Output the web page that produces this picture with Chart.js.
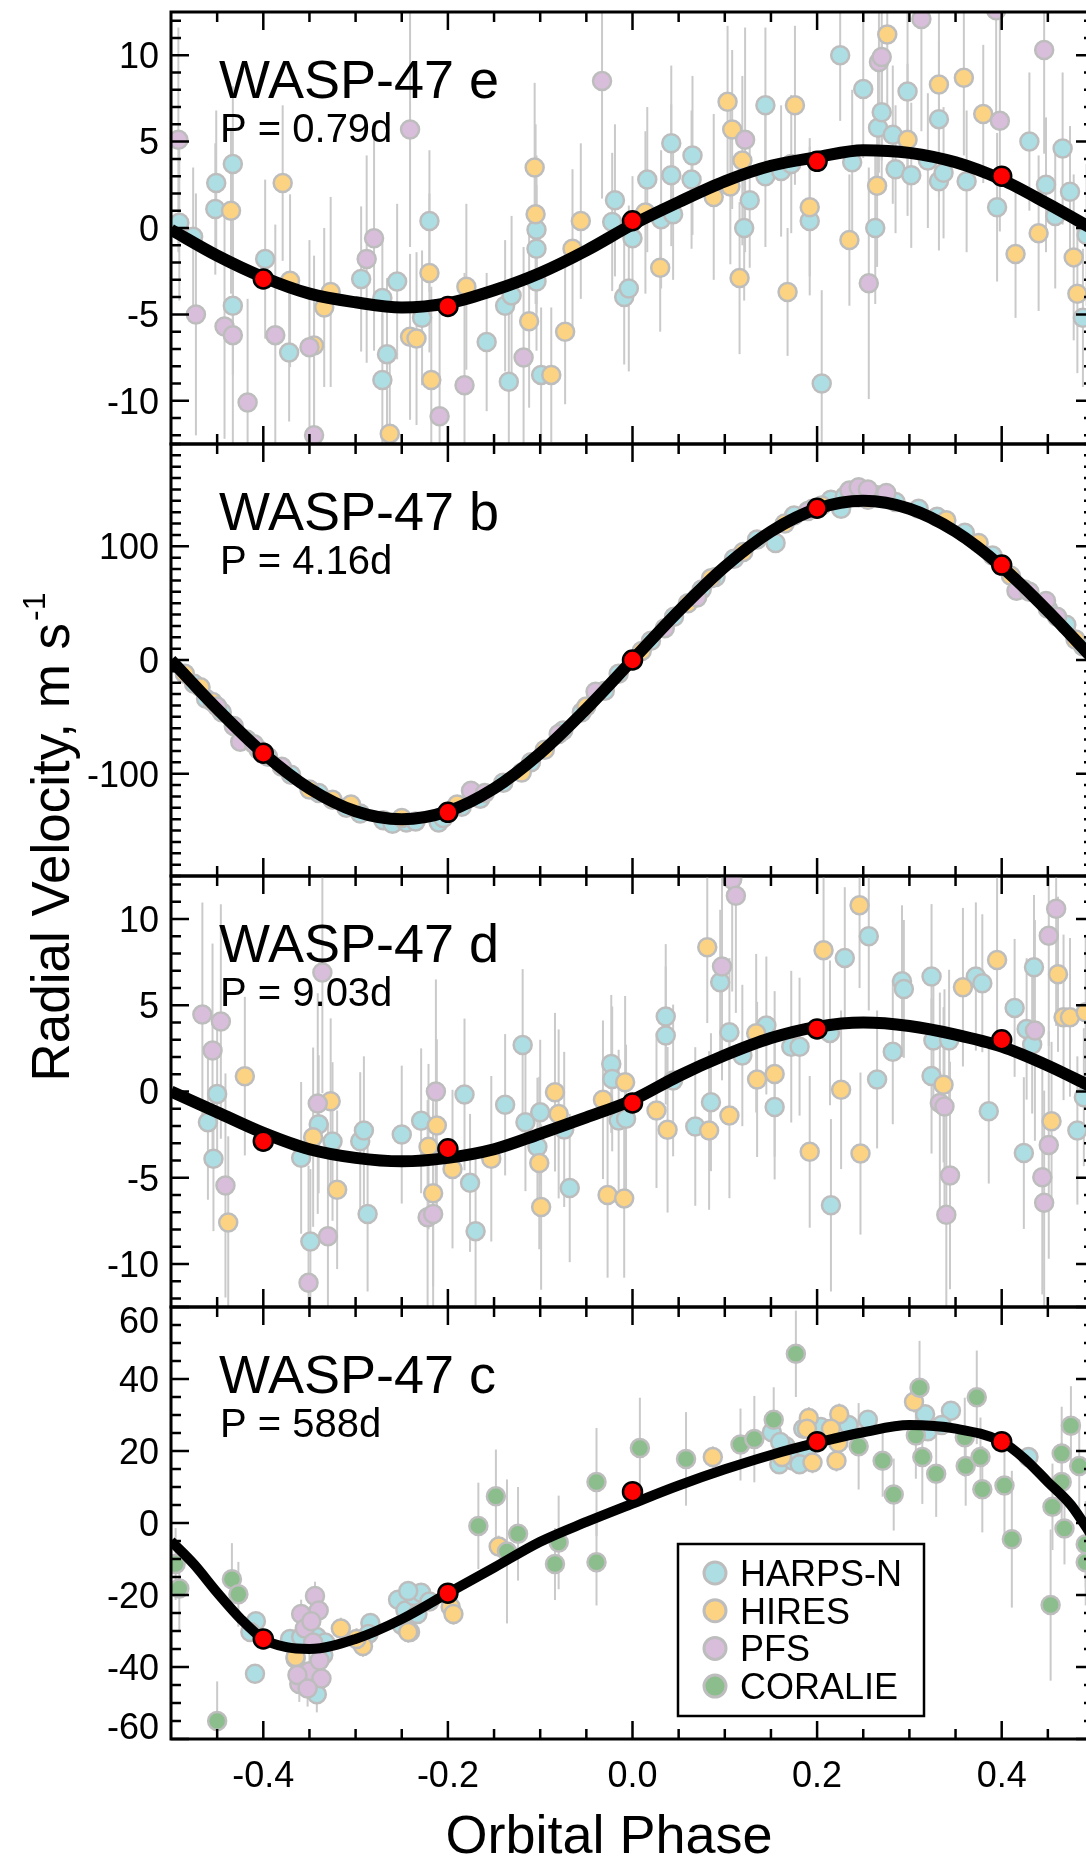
<!DOCTYPE html>
<html>
<head>
<meta charset="utf-8">
<title>WASP-47 radial velocities</title>
<script src="https://cdn.jsdelivr.net/npm/chart.js@4.4.0/dist/chart.umd.min.js"></script>
<style>
  html, body { margin: 0; padding: 0; background: #fff; }
  #wrap { position: relative; width: 1086px; height: 1860px; overflow: hidden; background: #fff; }
  #wrap canvas { position: absolute; left: 0; top: 0; }
</style>
</head>
<body>
<div id="wrap">
  <canvas id="panel0" width="1120" height="1860"></canvas>
  <canvas id="panel1" width="1120" height="1860"></canvas>
  <canvas id="panel2" width="1120" height="1860"></canvas>
  <canvas id="panel3" width="1120" height="1860"></canvas>
</div>
<script>
// ---- data: [phase, rv (m/s), error (m/s)] per instrument and planet ----

const instruments = ["HARPS-N", "HIRES", "PFS", "CORALIE"];
const panelNames = ["WASP-47 e", "WASP-47 b", "WASP-47 d", "WASP-47 c"];
const periodLabels = ["P = 0.79d", "P = 4.16d", "P = 9.03d", "P = 588d"];

const yLimits = [[-12.5, 12.5], [-190, 190], [-12.5, 12.5], [-60, 60]];
const yTicks = [[-10, -5, 0, 5, 10], [-100, 0, 100], [-10, -5, 0, 5, 10], [-60, -40, -20, 0, 20, 40, 60]];
const yMinorStep = [1, 10, 1, 5];
const xTicks = [-0.4, -0.2, 0.0, 0.2, 0.4];
const xTickLabels = ["-0.4", "-0.2", "0.0", "0.2", "0.4"];

// model curves
const curvePhase = [-0.5, -0.45, -0.4, -0.35, -0.3, -0.25, -0.2, -0.15, -0.1, -0.05, 0,
  0.05, 0.1, 0.15, 0.2, 0.25, 0.3, 0.35, 0.4, 0.45, 0.5];
const eCurve = [-0.1, -1.6, -2.85, -3.8, -4.3, -4.6, -4.35, -3.6, -2.6, -1.3, 0.2,
  1.5, 2.7, 3.6, 4.1, 4.5, 4.35, 3.8, 2.8, 1.4, -0.1];
const bCurve = [0, -43, -82, -113, -133, -140, -133, -113, -82, -43, 0,
  43, 82, 113, 133, 140, 133, 113, 82, 43, 0];
const dCurve = [0.0, -1.2, -2.4, -3.35, -3.85, -4.05, -3.85, -3.35, -2.45, -1.5, -0.5,
  0.9, 2.1, 3.1, 3.75, 4.0, 3.8, 3.3, 2.6, 1.5, 0.2];
const cCurvePhase = [-0.5, -0.475, -0.45, -0.425, -0.4, -0.375, -0.35, -0.3, -0.25, -0.2, -0.15,
  -0.1, -0.05, 0, 0.05, 0.1, 0.15, 0.2, 0.25, 0.3, 0.35, 0.4, 0.425, 0.45, 0.475, 0.5];
const cCurve = [-5, -11.5, -19.3, -26.5, -32.2, -34.5, -35, -32.2, -26.7, -19.5, -12.4,
  -5.2, 0.3, 5.4, 10.4, 14.9, 18.9, 22.3, 25.2, 27.2, 26.2, 22.6, 17.8, 11.4, 5.0, -4.5];

// binned points
const binPhase = [-0.4, -0.2, 0.0, 0.2, 0.4];
const eBin = [-2.95, -4.54, 0.42, 3.86, 3.0];
const eBinErr = [0.55, 0.45, 0.45, 0.45, 0.5];
const bBin = [-82, -134, 0, 133.5, 83.5];
const bBinErr = [3, 3, 3, 3, 3];
const dBin = [-2.88, -3.32, -0.66, 3.63, 3.0];
const dBinErr = [0.5, 0.5, 0.45, 0.45, 0.5];
const cBin = [-32.2, -19.5, 8.7, 22.6, 22.6];
const cBinErr = [1.5, 1.5, 1.5, 1.5, 1.5];

// WASP-47 e
const eHarps = [
  [-0.491, 0.3, 4.5], [-0.476, -0.5, 4.0], [-0.451, 2.6, 4.2], [-0.452, 1.1, 3.8], [-0.433, 3.7, 4.5],
  [-0.433, -4.5, 4.0], [-0.398, -1.8, 4.6], [-0.372, -7.2, 4.0], [-0.294, -2.95, 4.2], [-0.271, -4.05, 3.6],
  [-0.266, -7.3, 4.4], [-0.271, -8.8, 3.8], [-0.255, -3.1, 4.5], [-0.228, -5.2, 3.9], [-0.220, 0.4, 4.1],
  [-0.158, -6.6, 4.0], [-0.138, -4.5, 3.8], [-0.131, -3.9, 4.6], [-0.134, -8.9, 4.2], [-0.104, -0.1, 4.3],
  [-0.104, -1.2, 3.7], [-0.104, -3.1, 4.0], [-0.099, -8.5, 3.9], [-0.019, 1.6, 4.4], [-0.022, 0.35, 4.0],
  [-0.009, -4.0, 3.9], [-0.004, -3.5, 4.8], [0.000, -0.6, 3.6], [0.016, 2.8, 4.2], [0.031, 0.5, 4.0],
  [0.042, 4.9, 4.5], [0.042, 3.05, 4.1], [0.044, 0.8, 3.8], [0.065, 4.2, 4.6], [0.064, 2.8, 4.0],
  [0.121, 0.0, 4.2], [0.127, 1.6, 3.9], [0.144, 7.1, 4.5], [0.144, 3.0, 4.1], [0.161, 3.3, 3.8],
  [0.172, 3.7, 4.0], [0.192, 0.4, 4.3], [0.205, -9.0, 5.4], [0.225, 10.0, 3.8], [0.238, 3.8, 4.2],
  [0.250, 8.05, 4.0], [0.263, 0.0, 4.4], [0.266, 5.8, 3.9], [0.270, 6.7, 4.1], [0.282, 5.4, 4.0],
  [0.285, 3.4, 3.7], [0.298, 7.9, 4.6], [0.302, 3.05, 4.2], [0.320, 3.9, 3.9], [0.332, 6.3, 4.5],
  [0.332, 2.7, 4.0], [0.337, 3.2, 3.8], [0.362, 2.7, 4.1], [0.395, 1.2, 4.3], [0.430, 5.0, 4.0],
  [0.448, 2.5, 3.9], [0.458, 0.7, 4.2], [0.466, 4.6, 4.4], [0.474, 2.1, 3.8], [0.488, -5.2, 4.0],
  [0.492, -0.4, 4.1]
];
const eHires = [
  [-0.435, 1.0, 4.8], [-0.379, 2.6, 4.5], [-0.371, -3.05, 5.0], [-0.345, -6.8, 5.2], [-0.334, -4.6, 4.6],
  [-0.327, -3.7, 5.5], [-0.263, -11.9, 5.0], [-0.241, -6.3, 4.8], [-0.234, -6.4, 5.0], [-0.220, -2.6, 4.6],
  [-0.218, -8.8, 5.4], [-0.180, -3.4, 4.8], [-0.112, -5.4, 5.0], [-0.106, 3.5, 4.9], [-0.105, 0.8, 5.2],
  [-0.065, -1.2, 4.6], [-0.056, 0.4, 4.5], [-0.073, -6.0, 4.2], [-0.088, -8.5, 3.9], [0.014, 0.9, 4.7],
  [0.030, -2.3, 3.7], [0.088, 1.8, 4.8], [0.103, 7.3, 4.4], [0.108, 5.7, 4.6], [0.119, 3.9, 4.9],
  [0.106, 2.4, 4.5], [0.116, -2.9, 4.4], [0.176, 7.1, 4.6], [0.168, -3.7, 3.7], [0.192, 1.2, 4.0],
  [0.235, -0.7, 3.8], [0.265, 2.45, 4.7], [0.276, 11.2, 4.6], [0.298, 5.1, 4.4], [0.332, 8.3, 4.2],
  [0.359, 8.7, 4.5], [0.380, 6.6, 4.0], [0.415, -1.5, 3.7], [0.440, -0.3, 4.5], [0.478, -1.7, 4.8],
  [0.482, -3.8, 4.6]
];
const ePfs = [
  [-0.492, 5.1, 6.5], [-0.473, -5.0, 7.0], [-0.442, -5.7, 6.5], [-0.433, -6.2, 6.8], [-0.417, -10.1, 6.0],
  [-0.387, -6.2, 6.4], [-0.350, -6.9, 6.2], [-0.345, -12.0, 6.8], [-0.288, -1.8, 6.0], [-0.280, -0.6, 6.5],
  [-0.241, 5.7, 6.8], [-0.209, -10.9, 6.2], [-0.182, -9.1, 6.5], [-0.118, -7.5, 6.4], [-0.033, 8.5, 6.8],
  [0.122, 5.1, 6.5], [0.256, -3.2, 6.7], [0.267, 9.6, 6.4], [0.270, 9.9, 6.0], [0.313, 12.1, 6.5],
  [0.394, 12.6, 6.0], [0.398, 6.2, 6.4], [0.446, 10.3, 6.0]
];

// WASP-47 b
const bHarps = [
  [-0.475, -21, 3], [-0.462, -34, 3], [-0.445, -46, 3], [-0.418, -70, 3], [-0.395, -85, 3],
  [-0.37, -101, 3], [-0.34, -117, 3], [-0.31, -130, 3], [-0.295, -135, 3], [-0.27, -141, 3],
  [-0.26, -144, 3], [-0.245, -143, 3], [-0.235, -142, 3], [-0.21, -143, 3], [-0.205, -139, 3],
  [-0.185, -129, 3], [-0.165, -122, 3], [-0.14, -108, 3], [-0.11, -90, 3], [-0.075, -62, 3],
  [-0.055, -46, 3], [-0.03, -27, 3], [-0.015, -12, 3], [0.02, 17, 3], [0.045, 38, 3],
  [0.075, 62, 3], [0.09, 73, 3], [0.11, 89, 3], [0.135, 106, 3], [0.155, 103, 3],
  [0.175, 127, 3], [0.195, 133, 3], [0.215, 141, 3], [0.226, 133, 3], [0.23, 144, 3],
  [0.245, 143, 3], [0.265, 145, 3], [0.275, 146, 3], [0.285, 139, 3], [0.31, 133, 3],
  [0.33, 126, 3], [0.36, 112, 3], [0.39, 92, 3], [0.425, 62, 3], [0.45, 45, 3],
  [0.47, 31, 3], [0.488, 12, 3]
];
const bHires = [
  [-0.485, -12, 3], [-0.468, -24, 3], [-0.455, -37, 3], [-0.405, -79, 3], [-0.35, -114, 3],
  [-0.325, -123, 3], [-0.305, -127, 3], [-0.25, -139, 3], [-0.19, -127, 3], [-0.12, -99, 3],
  [-0.095, -79, 3], [-0.05, -41, 3], [0.01, 8, 3], [0.06, 50, 3], [0.085, 72, 3],
  [0.12, 95, 3], [0.165, 120, 3], [0.205, 136, 3], [0.255, 141, 3], [0.34, 123, 3],
  [0.375, 103, 3], [0.41, 74, 3], [0.48, 18, 3]
];
const bPfs = [
  [-0.45, -41, 3], [-0.432, -58, 3], [-0.425, -72, 3], [-0.41, -74, 3], [-0.38, -94, 3],
  [-0.175, -115, 3], [-0.16, -117, 3], [-0.08, -65, 3], [-0.04, -28, 3], [0.035, 28, 3],
  [0.07, 55, 3], [0.19, 131, 3], [0.235, 149, 3], [0.245, 152, 3], [0.255, 150, 3],
  [0.275, 147, 3], [0.416, 61, 3], [0.43, 60, 3], [0.448, 52, 3], [0.46, 38, 3]
];

// WASP-47 d
const dHarps = [
  [-0.450, -0.14, 4.0], [-0.460, -1.78, 4.5], [-0.454, -3.9, 4.2], [-0.359, -3.85, 4.4], [-0.340, -1.9, 4.0],
  [-0.325, -2.9, 4.6], [-0.349, -8.7, 4.2], [-0.295, -2.88, 4.0], [-0.291, -2.26, 4.3], [-0.287, -7.1, 4.5],
  [-0.250, -2.5, 4.0], [-0.229, -1.7, 4.2], [-0.182, -0.17, 4.4], [-0.176, -5.3, 4.0], [-0.170, -8.1, 4.3],
  [-0.138, -0.77, 4.1], [-0.119, 2.7, 4.4], [-0.116, -1.78, 4.0], [-0.100, -1.2, 4.2], [-0.103, -3.2, 4.0],
  [-0.074, -2.2, 4.5], [-0.068, -5.6, 4.3], [-0.023, 1.6, 4.0], [-0.022, 0.73, 4.2], [-0.015, -1.68, 4.1],
  [-0.007, -1.58, 4.3], [0.036, 4.35, 4.2], [0.036, 3.25, 4.0], [0.044, 0.64, 4.4], [0.068, -2.03, 4.6],
  [0.085, -0.62, 4.0], [0.095, 6.34, 4.2], [0.105, 3.44, 4.3], [0.119, 2.09, 4.1], [0.145, 3.83, 4.0],
  [0.154, -0.9, 4.2], [0.172, 2.6, 4.4], [0.181, 2.6, 4.0], [0.214, 3.4, 4.2], [0.215, -6.6, 5.0],
  [0.230, 7.75, 4.1], [0.256, 9.0, 4.3], [0.265, 0.7, 4.0], [0.282, 2.3, 4.2], [0.292, 6.4, 4.4],
  [0.294, 5.95, 4.0], [0.324, 6.67, 4.2], [0.326, 2.96, 4.0], [0.324, 0.9, 4.5], [0.343, 2.96, 4.1],
  [0.372, 6.67, 4.3], [0.379, 6.28, 4.0], [0.386, -1.14, 4.2], [0.414, 4.85, 4.0], [0.424, -3.57, 4.4],
  [0.427, 3.63, 4.1], [0.433, 2.72, 4.0], [0.435, 7.2, 4.2], [0.482, -2.26, 4.3], [0.489, -0.33, 4.0]
];
const dHires = [
  [-0.420, 0.89, 4.6], [-0.438, -7.6, 5.0], [-0.327, -0.56, 4.8], [-0.346, -2.65, 5.2], [-0.320, -5.7, 4.6],
  [-0.212, -1.97, 5.0], [-0.221, -3.2, 4.8], [-0.216, -5.9, 5.4], [-0.195, -4.5, 4.6], [-0.153, -3.9, 4.8],
  [-0.101, -4.15, 5.0], [-0.099, -6.7, 4.8], [-0.084, -0.04, 4.6], [-0.080, -1.3, 4.9], [-0.032, -0.48, 4.6],
  [-0.008, 0.54, 5.0], [-0.027, -6.0, 4.8], [-0.009, -6.2, 4.6], [0.026, -1.1, 4.5], [0.038, -2.22, 4.8],
  [0.083, -2.26, 4.6], [0.081, 8.37, 4.4], [0.105, -1.39, 4.8], [0.134, 3.38, 4.6], [0.135, 0.7, 4.5],
  [0.154, 1.02, 4.8], [0.207, 8.2, 4.6], [0.192, -3.5, 4.4], [0.226, 0.1, 4.6], [0.246, 10.8, 4.8],
  [0.247, -3.6, 4.7], [0.337, 0.39, 4.5], [0.358, 6.05, 4.6], [0.395, 7.63, 4.8], [0.454, -1.72, 4.6],
  [0.461, 6.8, 4.5], [0.467, 4.3, 4.8], [0.474, 4.3, 4.6], [0.491, 4.6, 4.5]
];
const dPfs = [
  [-0.466, 4.46, 6.5], [-0.446, 4.06, 6.8], [-0.455, 2.38, 6.2], [-0.441, -5.45, 6.5], [-0.336, 6.9, 7.0],
  [-0.341, -0.7, 6.4], [-0.330, -8.4, 6.6], [-0.351, -11.1, 6.8], [-0.213, 0.0, 6.5], [-0.222, -7.3, 6.8],
  [-0.216, -7.1, 6.4], [0.097, 7.25, 6.6], [0.108, 12.3, 6.5], [0.112, 11.36, 6.8], [0.333, -0.66, 6.4],
  [0.338, -0.87, 6.8], [0.344, -4.87, 6.6], [0.340, -7.15, 6.5], [0.436, 3.54, 6.4], [0.444, -4.97, 6.8],
  [0.446, -6.45, 6.5], [0.451, -3.1, 6.6], [0.451, 9.04, 6.4], [0.459, 10.6, 6.8]
];

// WASP-47 c
const cHarps = [
  [-0.408, -27.3, 2.5], [-0.414, -30.3, 2.2], [-0.409, -41.9, 2.5], [-0.371, -32.2, 2.0], [-0.359, -31.7, 2.2],
  [-0.342, -31.7, 2.0], [-0.333, -33.2, 2.3], [-0.365, -37.7, 2.0], [-0.335, -36.7, 2.2], [-0.342, -47.6, 5.0],
  [-0.284, -27.8, 2.0], [-0.286, -30.8, 2.2], [-0.254, -21.3, 2.0], [-0.246, -24.3, 2.0], [-0.237, -20.3, 2.2],
  [-0.229, -19.4, 2.0], [-0.220, -21.8, 2.1], [-0.250, -28.3, 2.0], [-0.241, -30.3, 2.2], [-0.233, -25.3, 2.0],
  [-0.243, -18.9, 2.0], [0.151, 25.2, 2.0], [0.166, 21.3, 2.0], [0.159, 16.3, 2.2], [0.174, 17.3, 2.0],
  [0.170, 19.5, 2.0], [0.188, 20.0, 2.0], [0.160, 22.5, 2.0], [0.181, 16.3, 2.0], [0.185, 26.2, 2.2],
  [0.204, 26.7, 2.0], [0.234, 27.2, 2.0], [0.255, 28.7, 2.2], [0.313, 26.0, 2.0], [0.320, 25.5, 2.0],
  [0.317, 30.2, 2.0], [0.345, 31.2, 2.0], [0.335, 27.2, 2.2], [0.429, 18.3, 2.0]
];
const cHires = [
  [-0.365, -37.2, 3], [-0.316, -29.3, 3], [-0.292, -34.2, 3], [-0.299, -32.2, 3], [-0.243, -30.3, 3],
  [-0.197, -23.3, 3], [-0.194, -25.3, 3], [-0.145, -6.5, 3], [0.087, 18.3, 3], [0.191, 29.2, 3],
  [0.224, 30.2, 3], [0.162, 18.3, 3], [0.195, 16.8, 3], [0.221, 17.3, 3], [0.223, 22.3, 3],
  [0.189, 26.2, 3], [0.215, 26.2, 3], [0.305, 33.7, 3]
];
const cPfs = [
  [-0.344, -20.3, 4], [-0.340, -24.3, 4], [-0.359, -25.3, 4], [-0.355, -29.3, 4], [-0.348, -27.3, 4],
  [-0.350, -41.2, 5], [-0.361, -44.7, 5], [-0.337, -43.2, 5], [-0.363, -42.2, 4], [-0.339, -38.2, 4],
  [-0.346, -33.2, 4], [-0.352, -46.0, 5]
];
const cCoralie = [
  [-0.495, -11.4, 10], [-0.491, -18.2, 12], [-0.434, -15.6, 10], [-0.427, -19.8, 9], [-0.450, -55, 11],
  [-0.167, -0.8, 12], [-0.148, 7.4, 13], [-0.124, -3.0, 13], [-0.136, -7.9, 20], [-0.080, -5.4, 13],
  [-0.084, -11.4, 10], [-0.039, 11.4, 15], [-0.039, -10.9, 12], [0.008, 20.8, 14], [0.058, 17.8, 13],
  [0.117, 21.8, 10], [0.132, 23.3, 12], [0.153, 28.7, 9], [0.177, 47.0, 12], [0.245, 21.3, 12],
  [0.271, 17.3, 10], [0.283, 7.9, 10], [0.311, 37.6, 13], [0.307, 24.3, 12], [0.314, 18.3, 13],
  [0.329, 13.7, 12], [0.360, 23.8, 11], [0.361, 15.8, 11], [0.373, 34.9, 13], [0.377, 18.3, 11],
  [0.379, 9.4, 12], [0.403, 10.4, 14], [0.411, -4.5, 19], [0.453, -22.8, 21], [0.455, 4.5, 12],
  [0.465, 19.3, 13], [0.468, -1.5, 10], [0.475, 27.0, 11], [0.465, 11.4, 11], [0.484, 15.8, 13],
  [0.491, -5.9, 12], [0.491, -10.9, 12]
];

// ---- layout and styling ----
const fontFamily = '"Liberation Sans", Arial, Helvetica, sans-serif';
const canvasW = 1120, canvasH = 1860;
const plotLeft = 171, plotRight = 1094;
const panelTop = [12, 444, 876, 1307];
const panelBottom = [444, 876, 1307, 1739];
const fillColors = ["#addee4", "#fcd283", "#d9bedb", "#8cbd8c"];
const rimColor = "#bdbdbd";
const barColor = "#cacaca";

function toPoints(rows) {
  return rows.map(r => ({ x: r[0], y: r[1], err: r[2] }));
}
function zipPoints(xs, ys, errs) {
  return xs.map((x, i) => ({ x: x, y: ys[i], err: errs ? errs[i] : 0 }));
}

function instrumentSet(rows, k, order) {
  return {
    type: "scatter",
    label: instruments[k],
    data: toPoints(rows),
    order: order,
    backgroundColor: fillColors[k],
    borderColor: rimColor,
    borderWidth: 2.5,
    pointRadius: 9,
    pointHoverRadius: 9,
    clip: 0,
    grayBars: true
  };
}

// error bars: grey ones under every marker, black ones under the binned points
const errorBarPlugin = {
  id: "errorBars",
  beforeDatasetsDraw(chart) {
    const ctx = chart.ctx, a = chart.chartArea;
    const xs = chart.scales.x, ys = chart.scales.y;
    ctx.save();
    ctx.beginPath();
    ctx.rect(a.left, a.top, a.right - a.left, a.bottom - a.top);
    ctx.clip();
    ctx.strokeStyle = barColor;
    ctx.lineWidth = 2;
    chart.data.datasets.forEach(ds => {
      if (!ds.grayBars) return;
      ds.data.forEach(p => {
        const x = xs.getPixelForValue(p.x);
        ctx.beginPath();
        ctx.moveTo(x, ys.getPixelForValue(p.y - p.err));
        ctx.lineTo(x, ys.getPixelForValue(p.y + p.err));
        ctx.stroke();
      });
    });
    ctx.restore();
  },
  beforeDatasetDraw(chart, args) {
    const ds = chart.data.datasets[args.index];
    if (!ds.blackBars) return;
    const ctx = chart.ctx, xs = chart.scales.x, ys = chart.scales.y;
    ctx.save();
    ctx.strokeStyle = "#000";
    ctx.lineWidth = 3;
    ds.data.forEach(p => {
      const x = xs.getPixelForValue(p.x);
      ctx.beginPath();
      ctx.moveTo(x, ys.getPixelForValue(p.y - p.err));
      ctx.lineTo(x, ys.getPixelForValue(p.y + p.err));
      ctx.stroke();
    });
    ctx.restore();
  }
};

// box, inward ticks on all four sides, tick labels and panel text
function framePlugin(i) {
  return {
    id: "frame" + i,
    afterDraw(chart) {
      const ctx = chart.ctx, a = chart.chartArea;
      const xs = chart.scales.x, ys = chart.scales.y;
      ctx.save();
      ctx.strokeStyle = "#000";
      ctx.fillStyle = "#000";

      // phase ticks every 0.05, long ones every 0.2
      ctx.lineWidth = 2.5;
      for (let k = -9; k <= 9; k++) {
        const x = xs.getPixelForValue(k * 0.05);
        const len = k % 4 === 0 ? 18 : 10;
        ctx.beginPath();
        ctx.moveTo(x, a.top); ctx.lineTo(x, a.top + len);
        ctx.moveTo(x, a.bottom); ctx.lineTo(x, a.bottom - len);
        ctx.stroke();
      }

      // velocity ticks
      const step = yMinorStep[i];
      const lo = Math.ceil(yLimits[i][0] / step), hi = Math.floor(yLimits[i][1] / step);
      for (let n = lo; n <= hi; n++) {
        const v = n * step;
        const y = ys.getPixelForValue(v);
        const len = yTicks[i].includes(v) ? 18 : 10;
        ctx.beginPath();
        ctx.moveTo(a.left, y); ctx.lineTo(a.left + len, y);
        ctx.moveTo(a.right, y); ctx.lineTo(a.right - len, y);
        ctx.stroke();
      }

      ctx.lineWidth = 3;
      ctx.strokeRect(a.left, a.top, a.right - a.left, a.bottom - a.top);

      // velocity tick labels, kept inside the panel
      const tickSize = 36, capH = tickSize * 0.716;
      ctx.font = tickSize + "px " + fontFamily;
      ctx.textAlign = "right";
      ctx.textBaseline = "alphabetic";
      yTicks[i].forEach(v => {
        let base = ys.getPixelForValue(v) + capH / 2;
        base = Math.max(base, a.top + capH);
        base = Math.min(base, a.bottom);
        ctx.fillText(String(v), a.left - 12, base);
      });

      // planet name and period
      ctx.textAlign = "left";
      ctx.font = "54px " + fontFamily;
      ctx.fillText(panelNames[i], 219, a.top + 86);
      ctx.font = "40px " + fontFamily;
      ctx.fillText(periodLabels[i], 220, a.top + 130);

      if (i === panelNames.length - 1) {
        // phase labels
        ctx.font = tickSize + "px " + fontFamily;
        ctx.textAlign = "center";
        xTicks.forEach((v, j) => {
          ctx.fillText(xTickLabels[j], xs.getPixelForValue(v), a.bottom + 48);
        });

        // legend
        const lx = 678, ly = 1544, lw = 246, lh = 172;
        ctx.fillStyle = "#fff";
        ctx.fillRect(lx, ly, lw, lh);
        ctx.lineWidth = 2.5;
        ctx.strokeStyle = "#000";
        ctx.strokeRect(lx, ly, lw, lh);
        ctx.font = "36px " + fontFamily;
        ctx.textAlign = "left";
        instruments.forEach((name, k) => {
          const cy = ly + 29 + k * 37.7;
          ctx.beginPath();
          ctx.arc(lx + 37, cy, 11, 0, Math.PI * 2);
          ctx.fillStyle = fillColors[k];
          ctx.fill();
          ctx.lineWidth = 3;
          ctx.strokeStyle = rimColor;
          ctx.stroke();
          ctx.fillStyle = "#000";
          ctx.fillText(name, lx + 62, cy + 13);
        });

        // axis titles
        ctx.font = "54px " + fontFamily;
        ctx.textAlign = "center";
        ctx.fillText("Orbital Phase", 609, 1853);

        ctx.save();
        ctx.translate(69, 838);
        ctx.rotate(-Math.PI / 2);
        ctx.textAlign = "left";
        const mainText = "Radial Velocity, m s";
        ctx.font = "53px " + fontFamily;
        const w1 = ctx.measureText(mainText).width;
        ctx.font = "32px " + fontFamily;
        const w2 = ctx.measureText("-1").width;
        const x0 = -(w1 + w2) / 2;
        ctx.font = "53px " + fontFamily;
        ctx.fillText(mainText, x0, 0);
        ctx.font = "32px " + fontFamily;
        ctx.fillText("-1", x0 + w1 + 2, -24);
        ctx.restore();
      }
      ctx.restore();
    }
  };
}

const panels = [
  { sets: [eHarps, eHires, ePfs, null], curveX: curvePhase, curveY: eCurve, bin: eBin, binErr: eBinErr, lineW: 12 },
  { sets: [bHarps, bHires, bPfs, null], curveX: curvePhase, curveY: bCurve, bin: bBin, binErr: bBinErr, lineW: 12 },
  { sets: [dHarps, dHires, dPfs, null], curveX: curvePhase, curveY: dCurve, bin: dBin, binErr: dBinErr, lineW: 12 },
  { sets: [cHarps, cHires, cPfs, cCoralie], curveX: cCurvePhase, curveY: cCurve, bin: cBin, binErr: cBinErr, lineW: 10 }
];

panels.forEach((p, i) => {
  const datasets = [];
  p.sets.forEach((rows, k) => {
    if (rows) datasets.push(instrumentSet(rows, k, 5 - k));
  });
  datasets.push({
    type: "line",
    label: "model",
    data: zipPoints(p.curveX, p.curveY),
    order: 1,
    showLine: true,
    borderColor: "#000",
    borderWidth: p.lineW,
    pointRadius: 0,
    pointHoverRadius: 0,
    fill: false,
    cubicInterpolationMode: "monotone",
    clip: 0
  });
  datasets.push({
    type: "scatter",
    label: "binned",
    data: zipPoints(binPhase, p.bin, p.binErr),
    order: 0,
    backgroundColor: "#ff0000",
    borderColor: "#000",
    borderWidth: 2.5,
    pointRadius: 9.5,
    pointHoverRadius: 9.5,
    blackBars: true
  });

  new Chart(document.getElementById("panel" + i), {
    type: "scatter",
    data: { datasets: datasets },
    options: {
      responsive: false,
      animation: false,
      devicePixelRatio: 1,
      events: [],
      layout: {
        padding: {
          left: plotLeft,
          right: canvasW - plotRight,
          top: panelTop[i],
          bottom: canvasH - panelBottom[i]
        }
      },
      scales: {
        x: { type: "linear", min: -0.5, max: 0.5, display: false },
        y: { type: "linear", min: yLimits[i][0], max: yLimits[i][1], display: false }
      },
      plugins: {
        legend: { display: false },
        tooltip: { enabled: false }
      }
    },
    plugins: [errorBarPlugin, framePlugin(i)]
  });
});
</script>
</body>
</html>
